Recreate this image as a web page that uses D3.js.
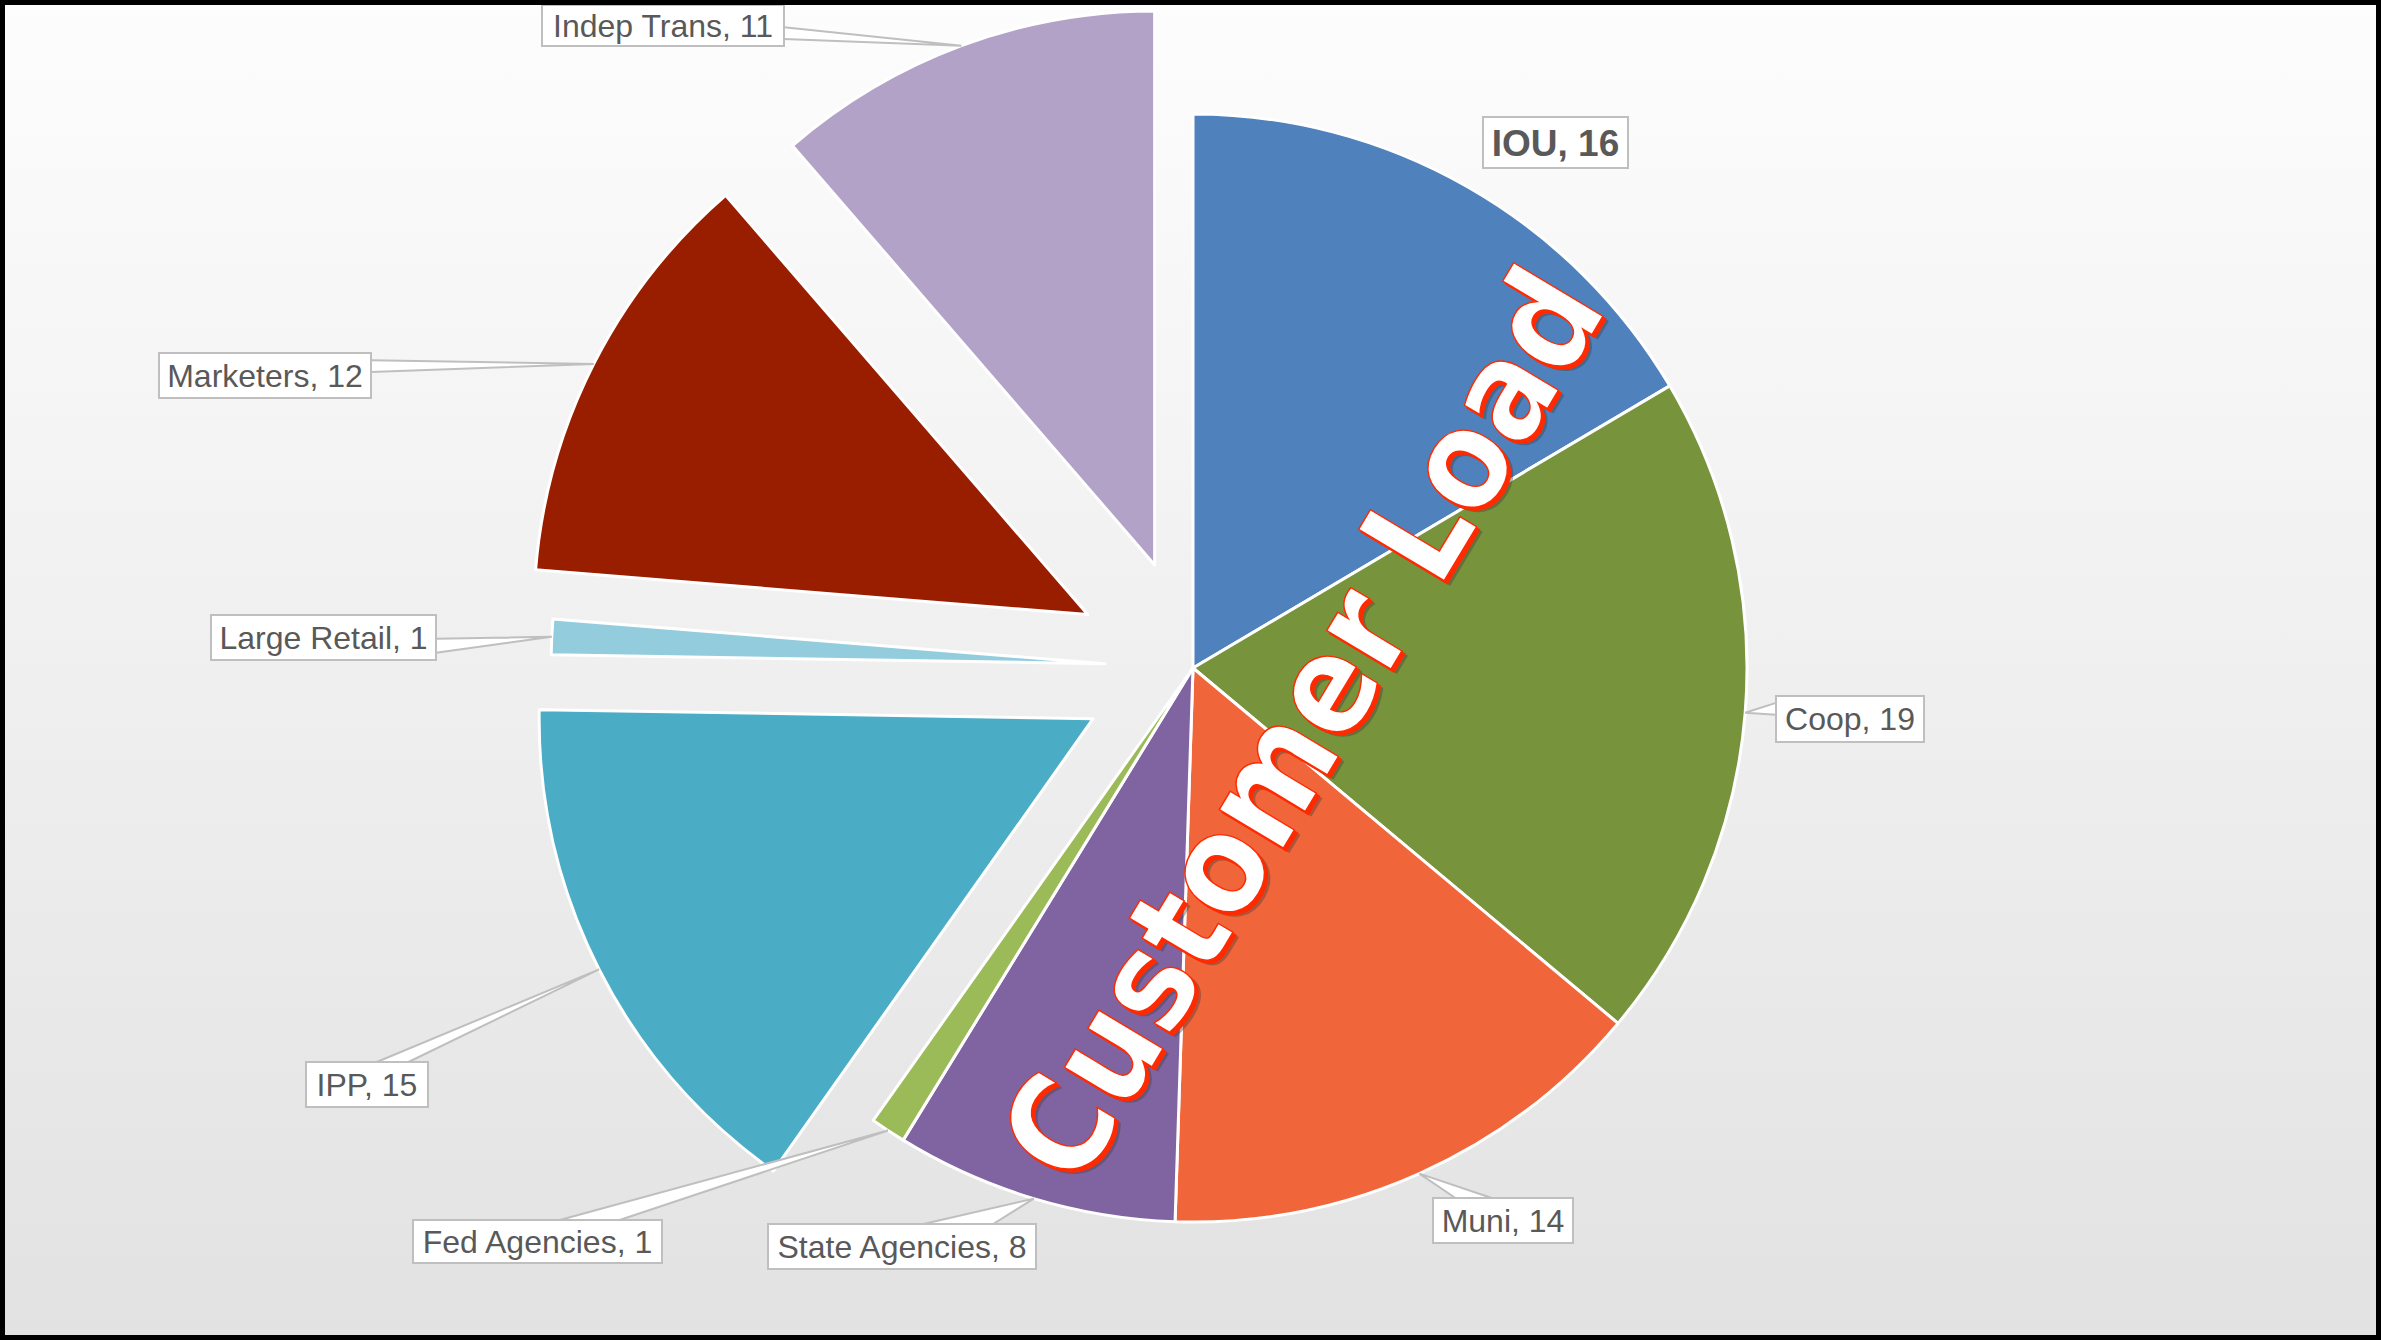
<!DOCTYPE html>
<html>
<head>
<meta charset="utf-8">
<script src="https://cdn.jsdelivr.net/npm/d3@7"></script>
<style>
  body { margin: 0; background: #fff; }
  svg { display: block; }
</style>
</head>
<body>
<div id="chart"></div>
<script>
// pie data
var categories = ["IOU", "Coop", "Muni", "State Agencies", "Fed Agencies", "IPP", "Large Retail", "Marketers", "Indep Trans"];
var values = [16, 19, 14, 8, 1, 15, 1, 12, 11];
var colors = ["#4f81bd", "#77933c", "#f0653a", "#8064a2", "#9bbb59", "#4bacc6", "#93cddd", "#991e00", "#b3a2c7"];

var svgWidth = 2381;
var svgHeight = 1340;
var cx = 1193, cy = 668, radius = 554;

// how far each exploded slice is pulled out (px)
var explode = {"IPP": 112, "Large Retail": 88, "Marketers": 118, "Indep Trans": 110};

// label box placement: [x, y, w, h], side the leader leaves from, base span on that side
var labelLayout = {
  "IOU":            {box: [1483, 117, 145, 51], bold: true},
  "Coop":           {box: [1776, 696, 148, 46], side: "left",  base: [0.15, 0.41]},
  "Muni":           {box: [1433, 1198, 140, 45], side: "top",  base: [0.16, 0.42]},
  "State Agencies": {box: [768, 1224, 268, 45], side: "top",   base: [0.58, 0.84]},
  "Fed Agencies":   {box: [413, 1220, 249, 43], side: "top",   base: [0.59, 0.83]},
  "IPP":            {box: [306, 1062, 122, 45], side: "top",   base: [0.58, 0.84]},
  "Large Retail":   {box: [211, 615, 225, 45], side: "right",  base: [0.53, 0.84]},
  "Marketers":      {box: [159, 353, 212, 45], side: "right",  base: [0.16, 0.42]},
  "Indep Trans":    {box: [542, 5, 242, 41], side: "right",    base: [0.54, 0.83]}
};

var data = categories.map(function(c, i) {
  return {name: c, value: values[i], color: colors[i]};
});

var svg = d3.select("#chart")
  .append("svg")
  .attr("width", svgWidth)
  .attr("height", svgHeight);

// background gradient
var defs = svg.append("defs");
var grad = defs.append("linearGradient")
  .attr("id", "bg")
  .attr("x1", 0).attr("y1", 0)
  .attr("x2", 0).attr("y2", 1);
grad.append("stop").attr("offset", "0%").attr("stop-color", "#fdfdfd");
grad.append("stop").attr("offset", "100%").attr("stop-color", "#e2e2e2");

svg.append("rect")
  .attr("width", svgWidth)
  .attr("height", svgHeight)
  .attr("fill", "url(#bg)");

var pie = d3.pie()
  .value(function(d) { return d.value; })
  .sort(null);

var arcs = pie(data);

var arc = d3.arc()
  .innerRadius(0)
  .outerRadius(radius);

var edgeArc = d3.arc()
  .innerRadius(radius)
  .outerRadius(radius);

function offset(d) {
  var e = explode[d.data.name] || 0;
  var mid = (d.startAngle + d.endAngle) / 2;
  return [Math.sin(mid) * e, -Math.cos(mid) * e];
}

var chartGroup = svg.append("g")
  .attr("transform", `translate(${cx}, ${cy})`);

chartGroup.selectAll(".slice")
  .data(arcs)
  .enter()
  .append("path")
  .classed("slice", true)
  .attr("transform", function(d) {
    var o = offset(d);
    return `translate(${o[0]}, ${o[1]})`;
  })
  .attr("d", arc)
  .attr("fill", function(d) { return d.data.color; })
  .attr("stroke", "#ffffff")
  .attr("stroke-width", 3)
  .attr("stroke-linejoin", "round");

// data labels with callout leaders
var labelGroup = svg.append("g");

arcs.forEach(function(d) {
  var lay = labelLayout[d.data.name];
  var b = lay.box;
  var g = labelGroup.append("g");

  if (lay.side) {
    var o = offset(d);
    var c = edgeArc.centroid(d);
    var tip = [cx + c[0] + o[0], cy + c[1] + o[1]];
    var p1, p2;
    if (lay.side === "right") {
      p1 = [b[0] + b[2], b[1] + b[3] * lay.base[0]];
      p2 = [b[0] + b[2], b[1] + b[3] * lay.base[1]];
    } else if (lay.side === "left") {
      p1 = [b[0], b[1] + b[3] * lay.base[0]];
      p2 = [b[0], b[1] + b[3] * lay.base[1]];
    } else {
      p1 = [b[0] + b[2] * lay.base[0], b[1]];
      p2 = [b[0] + b[2] * lay.base[1], b[1]];
    }
    g.append("path")
      .attr("d", d3.line()([p1, tip, p2]))
      .attr("fill", "#ffffff")
      .attr("stroke", "#bfbfbf")
      .attr("stroke-width", 2);
  }

  g.append("rect")
    .attr("x", b[0]).attr("y", b[1])
    .attr("width", b[2]).attr("height", b[3])
    .attr("fill", "#ffffff")
    .attr("stroke", "#bfbfbf")
    .attr("stroke-width", 2);

  var fs = lay.bold ? 37 : 32;
  g.append("text")
    .attr("x", b[0] + b[2] / 2)
    .attr("y", b[1] + b[3] / 2 + fs * 0.355)
    .attr("text-anchor", "middle")
    .attr("font-family", "'Liberation Sans', Arial, sans-serif")
    .attr("font-size", fs)
    .attr("font-weight", lay.bold ? "bold" : "normal")
    .attr("fill", "#595959")
    .text(d.data.name + ", " + d.data.value);
});

// big rotated title
var titleX = 1343, titleY = 749, titleAngle = -59;
function titleText(dx, dy) {
  return svg.append("text")
    .attr("transform", `translate(${titleX + dx}, ${titleY + dy}) rotate(${titleAngle})`)
    .attr("text-anchor", "middle")
    .attr("font-family", "'DejaVu Sans', sans-serif")
    .attr("font-weight", "bold")
    .attr("font-size", 137)
    .attr("textLength", 1030)
    .attr("lengthAdjust", "spacingAndGlyphs")
    .text("Customer Load");
}
titleText(6, 5).attr("fill", "#404040").attr("opacity", 0.4);
titleText(3, 3).attr("fill", "#ff2a00").attr("stroke", "#ff2a00").attr("stroke-width", 1.5);
titleText(0, 0).attr("fill", "#ffffff").attr("stroke", "#ff2a00").attr("stroke-width", 1.5);

// outer frame
svg.append("rect")
  .attr("x", 2.5).attr("y", 2.5)
  .attr("width", svgWidth - 5)
  .attr("height", svgHeight - 5)
  .attr("fill", "none")
  .attr("stroke", "#000000")
  .attr("stroke-width", 5);
</script>
</body>
</html>
